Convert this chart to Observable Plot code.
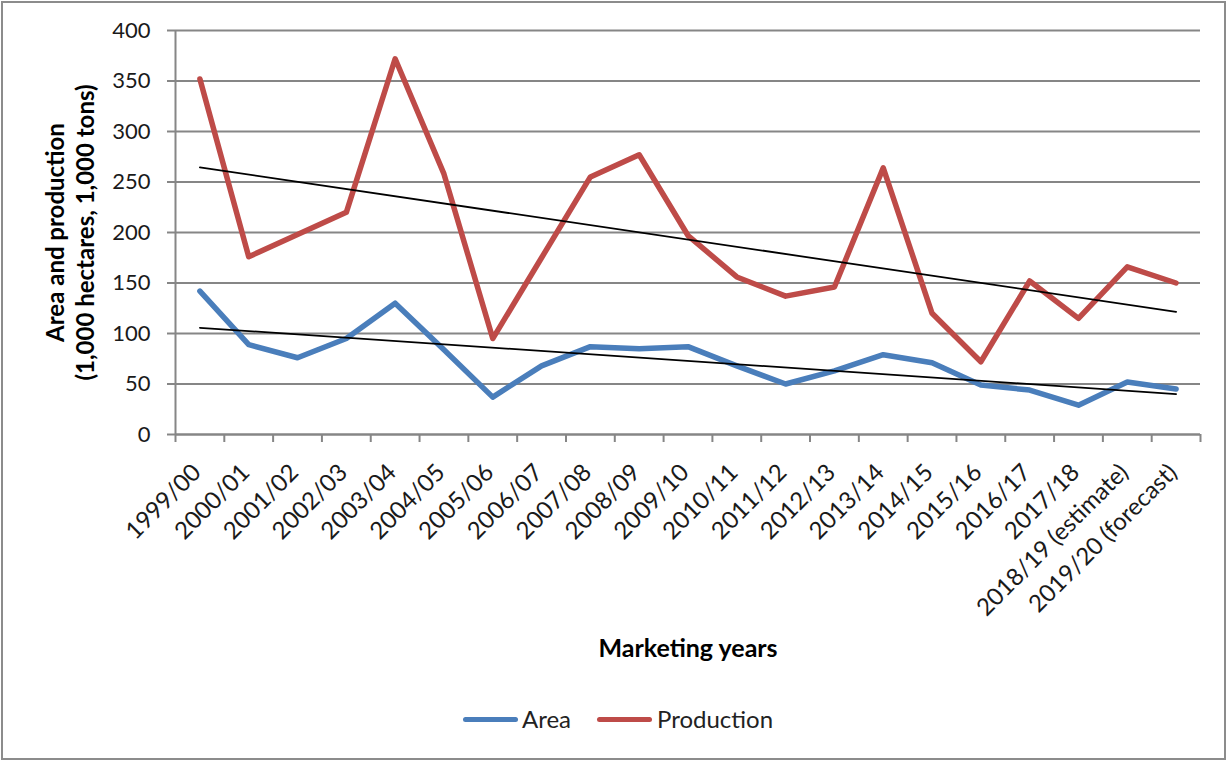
<!DOCTYPE html>
<html>
<head>
<meta charset="utf-8">
<script src="https://cdn.jsdelivr.net/npm/d3@7"></script>
<script src="https://cdn.jsdelivr.net/npm/@observablehq/plot@0.6"></script>
<style>
  html, body { margin: 0; padding: 0; background: #fff; }
  body { width: 1227px; height: 761px; position: relative; overflow: hidden; font-family: Lato, "Open Sans", sans-serif; }
  #frame { position: absolute; left: 1px; top: 1px; width: 1225px; height: 759px; box-sizing: border-box; border: 2px solid #8c8c8c; }
  #chart { position: absolute; left: 0; top: 0; }
  #legend { position: absolute; top: 705px; left: 0; width: 1227px; height: 30px; font-size: 24px; color: #222; }
  .sw { position: absolute; top: 12px; height: 5px; border-radius: 3px; }
  .lab { position: absolute; top: 0; line-height: 28px; }
</style>
</head>
<body>
<div id="frame"></div>
<div id="chart"></div>
<div id="legend">
  <div class="sw" style="left:463px;width:55px;background:#4a7ebb"></div>
  <div class="lab" style="left:522px">Area</div>
  <div class="sw" style="left:597px;width:55px;background:#be4b48"></div>
  <div class="lab" style="left:657px">Production</div>
</div>
<script>
const categories = ["1999/00","2000/01","2001/02","2002/03","2003/04","2004/05","2005/06","2006/07","2007/08","2008/09","2009/10","2010/11","2011/12","2012/13","2013/14","2014/15","2015/16","2016/17","2017/18","2018/19 (estimate)","2019/20 (forecast)"];
const area = [142,89,76,95,130,84,37,68,87,85,87,68,50,63,79,71,49,44,29,52,45];
const production = [352,176,198,220,372,258,95,175,255,277,197,156,137,146,264,120,72,152,115,166,150];
const yTicks = [0,50,100,150,200,250,300,350,400];
const seriesNames = ["Area","Production"];
const seriesColors = ["#4a7ebb","#be4b48"];

const rows = [];
categories.forEach((c, i) => {
  rows.push({i, cat: c, series: "Area", v: area[i]});
  rows.push({i, cat: c, series: "Production", v: production[i]});
});
const labelRows = categories.map((c, i) => ({i, cat: c}));
const boundaries = d3.range(categories.length + 1).map(k => k - 0.5);
const font = "Lato, 'Open Sans', sans-serif";

const chart = Plot.plot({
  width: 1227,
  height: 680,
  marginLeft: 175,
  marginRight: 27,
  marginTop: 30,
  marginBottom: 246,
  style: {fontFamily: font, background: "transparent", color: "#000"},
  x: {type: "linear", domain: [-0.5, categories.length - 0.5], axis: null},
  y: {domain: [0, 400], axis: null},
  color: {domain: seriesNames, range: seriesColors},
  marks: [
    Plot.gridY(yTicks, {stroke: "#868686", strokeOpacity: 1, strokeWidth: 2}),
    Plot.ruleX([-0.5], {stroke: "#868686", strokeWidth: 2}),
    Plot.ruleY([0], {stroke: "#868686", strokeWidth: 2}),
    Plot.axisY({ticks: yTicks, tickSize: 8, tickPadding: 17, fontSize: 22, stroke: "#868686", strokeWidth: 2, fill: "#1a1a1a", label: null}),
    Plot.axisX({ticks: boundaries, tickSize: 8, tickFormat: () => "", stroke: "#868686", strokeWidth: 2, label: null}),
    Plot.text(labelRows, {x: "i", y: () => 0, text: "cat", rotate: -45, textAnchor: "end", dx: -3, dy: 34, fontSize: 24, fill: "#1a1a1a"}),
    Plot.line(rows, {x: "i", y: "v", z: "series", stroke: "series", strokeWidth: 5.5, strokeLinejoin: "round", strokeLinecap: "round"}),
    Plot.linearRegressionY(rows, {x: "i", y: "v", z: "series", stroke: "#000", strokeWidth: 1.8, ci: 0}),
    Plot.text(["Area and production\n(1,000 hectares, 1,000 tons)"], {frameAnchor: "left", textAnchor: "middle", rotate: -90, dx: -106, fontSize: 24, fontWeight: "bold", lineHeight: 1.25, fill: "#000"}),
    Plot.text(["Marketing years"], {frameAnchor: "bottom", dy: 222, fontSize: 25, fontWeight: "bold", fill: "#000"})
  ]
});
document.getElementById("chart").appendChild(chart);
</script>
</body>
</html>
